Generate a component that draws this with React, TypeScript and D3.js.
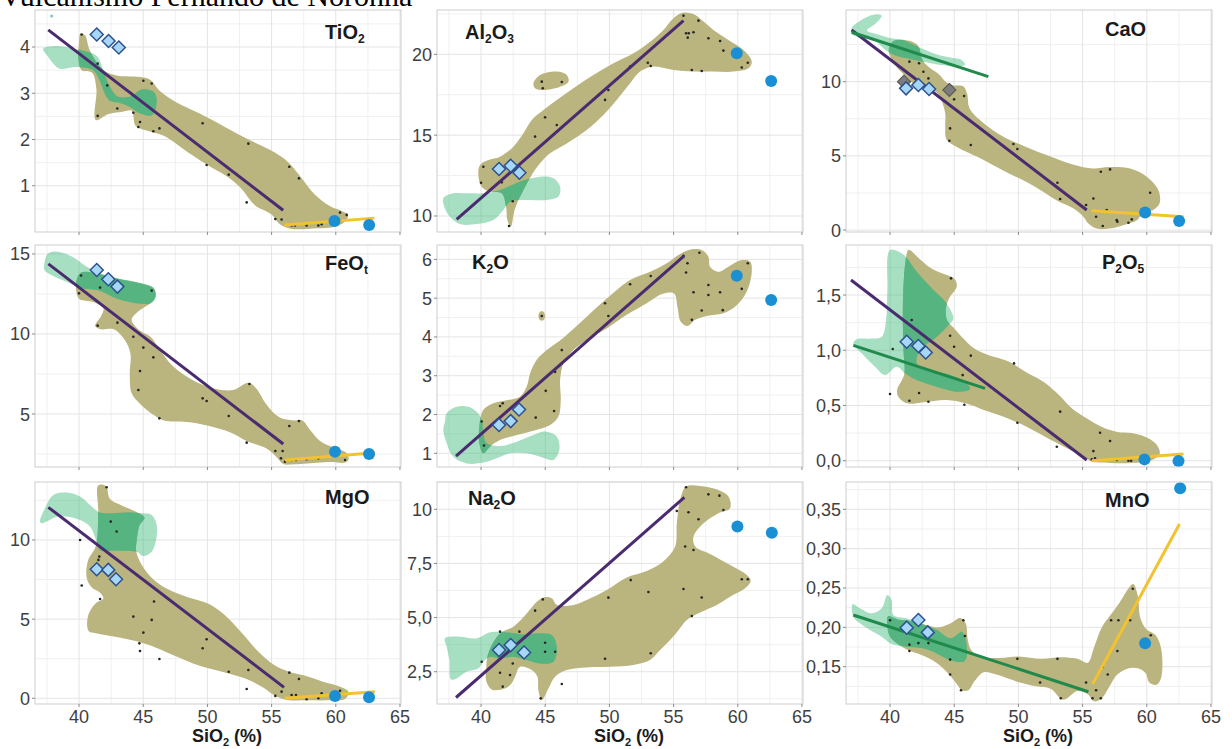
import React from 'react';
import * as d3 from 'd3';

type Pt = [number, number];

// ---------- shared axis ----------
const TITLE = 'Vulcanismo Fernando de Noronha';
const SIO2_DOMAIN: [number, number] = [36.57, 65.08];
const SIO2_TICKS = [40, 45, 50, 55, 60, 65];
const SIO2_MINOR = [37.5, 42.5, 47.5, 52.5, 57.5, 62.5];

// ---------- TiO2 ----------
const tio2Olive: Pt[] = [[40.1,4.28],[40.45,4.26],[40.8,3.95],[41.3,3.7],[42.0,3.48],[43.0,3.38],[44.3,3.36],[45.5,3.3],[46.3,3.05],[47.6,2.8],[49.4,2.56],[51.5,2.25],[53.2,2.0],[54.7,1.8],[55.8,1.62],[56.5,1.45],[57.3,1.18],[58.4,0.8],[59.6,0.55],[60.5,0.45],[60.95,0.37],[60.8,0.25],[60.0,0.12],[58.5,0.08],[56.5,0.07],[55.6,0.18],[55.0,0.38],[53.7,0.58],[52.6,0.95],[51.7,1.17],[50.3,1.4],[48.5,1.72],[46.6,2.08],[45.2,2.2],[44.4,2.3],[44.1,2.62],[43.4,2.6],[42.3,2.55],[41.3,2.42],[41.35,3.1],[41.0,3.45],[40.2,3.5],[39.95,3.75],[40.0,4.1]];
const tio2Green: Pt[] = [[37.2,3.96],[38.2,4.02],[39.5,3.97],[40.7,3.89],[41.4,3.8],[41.9,3.5],[42.3,3.2],[43.0,2.93],[44.0,2.93],[44.9,3.08],[45.8,3.03],[46.05,2.85],[45.7,2.53],[44.8,2.56],[44.0,2.7],[43.1,2.8],[42.4,2.84],[42.0,3.0],[41.6,3.28],[41.1,3.5],[39.8,3.57],[38.5,3.53],[38.0,3.64],[37.5,3.82]];
const tio2Dots: Pt[] = [[40.2,4.27],[41.45,3.64],[42.2,3.17],[42.98,2.67],[41.45,2.51],[44.23,2.58],[44.62,2.27],[44.75,2.38],[45.01,3.27],[45.66,3.21],[45.79,2.18],[46.26,2.24],[49.63,2.35],[49.94,1.45],[51.66,1.24],[53.19,1.91],[53.06,0.64],[56.38,1.41],[57.13,1.16],[55.29,0.28],[55.78,0.27],[56.56,0.14],[56.82,0.14],[57.73,0.14],[58.64,0.14],[58.9,0.17],[60.33,0.42],[60.85,0.37]];
const tio2GreenDots: Pt[] = [[37.87,4.67]];
const tio2Diamonds: Pt[] = [[41.38,4.27],[42.3,4.13],[43.1,3.99]];
const tio2Circles: Pt[] = [[59.9,0.24],[62.6,0.15]];
const tio2Purple: Pt[] = [[37.6,4.37],[55.9,0.47]];
const tio2Yellow: Pt[] = [[56.0,0.15],[63.0,0.3]];
const tio2Ticks = [1, 2, 3, 4];
const tio2TickLabels = ['1', '2', '3', '4'];

// ---------- Al2O3 ----------
const al2o3Olive: Pt[] = [[39.92,13.15],[40.57,13.46],[41.48,13.67],[42.52,14.29],[43.3,15.11],[43.95,15.94],[44.86,16.56],[45.9,17.18],[47.19,17.9],[48.75,18.72],[50.31,19.44],[51.87,20.06],[53.17,20.78],[54.21,21.51],[54.99,22.23],[55.77,22.58],[56.55,22.49],[57.19,22.12],[58.1,21.51],[59.27,20.89],[60.44,20.27],[61.09,19.55],[60.83,19.13],[59.66,18.93],[58.1,18.93],[56.55,18.93],[54.99,19.03],[53.43,19.24],[52.39,18.93],[51.61,18.21],[50.57,17.18],[49.53,16.25],[48.23,15.32],[46.68,14.49],[45.38,13.88],[44.6,13.26],[43.95,12.54],[43.3,11.61],[42.65,10.47],[42.31,9.34],[42.05,9.75],[41.95,10.58],[41.61,11.4],[40.7,11.51],[40.05,11.81],[39.79,12.54]];
const al2o3Island: Pt[] = [[44.08,18.21],[44.6,18.72],[45.9,18.93],[46.68,18.72],[46.81,18.31],[46.16,18.0],[44.86,17.79],[44.21,17.9]];
const al2o3Green: Pt[] = [[37.06,11.09],[37.84,11.4],[38.88,11.4],[40.18,11.4],[41.48,11.61],[43.04,12.12],[44.6,12.43],[45.64,12.33],[46.16,11.81],[46.03,11.2],[45.12,10.99],[43.56,10.99],[42.26,10.89],[41.74,10.37],[40.96,9.75],[39.66,9.5],[38.36,9.5],[37.58,9.96],[37.19,10.47]];
const al2o3Dots: Pt[] = [[40.18,13.05],[40.0,12.06],[41.61,12.08],[42.47,10.91],[42.18,9.38],[44.21,14.91],[44.99,16.1],[45.9,15.63],[44.73,18.31],[44.81,17.9],[46.29,18.29],[49.66,17.18],[49.92,17.79],[51.61,19.24],[52.99,19.48],[53.22,19.28],[55.77,22.39],[55.97,21.3],[56.18,21.3],[56.55,21.36],[56.1,21.03],[56.94,22.08],[57.71,20.99],[58.62,20.82],[58.88,20.23],[60.31,19.18],[60.78,19.48],[56.42,19.03],[57.19,18.97]];
const al2o3Diamonds: Pt[] = [[41.4,12.91],[42.31,13.11],[42.99,12.68]];
const al2o3Circles: Pt[] = [[59.92,20.06],[62.6,18.35]];
const al2o3Purple: Pt[] = [[38.1,9.79],[55.77,22.08]];
const al2o3Ticks = [10, 15, 20];
const al2o3TickLabels = ['10', '15', '20'];

// ---------- CaO ----------
const caoOlive: Pt[] = [[39.9,12.1],[40.3,12.75],[41.5,12.75],[42.2,12.4],[42.5,11.5],[43.0,11.0],[43.8,10.5],[44.4,9.95],[45.0,9.75],[45.7,9.7],[46.0,9.2],[46.2,8.2],[47.3,7.2],[48.8,6.3],[50.6,5.6],[52.5,4.95],[54.3,4.4],[55.8,4.15],[57.1,4.25],[58.7,4.15],[60.0,3.6],[60.9,2.7],[61.0,1.8],[60.5,1.35],[59.7,1.1],[59.2,0.65],[58.4,0.4],[57.1,0.1],[56.1,0.1],[55.45,0.45],[55.06,0.9],[54.3,1.45],[53.0,2.0],[51.7,2.7],[50.6,3.25],[49.3,3.8],[48.3,4.25],[46.75,4.95],[45.2,5.6],[44.4,6.1],[44.3,6.95],[44.3,7.85],[44.0,8.75],[43.6,9.3],[43.1,9.4],[41.8,9.9],[41.0,10.55],[40.5,11.0]];
const caoGreen: Pt[] = [[37.0,13.6],[37.4,13.95],[38.3,14.4],[38.95,14.55],[39.35,14.45],[38.85,13.9],[38.2,13.45],[39.0,13.2],[40.0,12.95],[41.0,12.8],[42.3,12.3],[43.6,11.85],[44.9,11.6],[45.5,11.5],[45.85,11.15],[45.2,11.0],[44.2,11.1],[42.6,11.35],[41.5,11.55],[40.5,11.75],[39.7,12.1],[38.7,12.8],[37.4,13.05],[37.0,13.25]];
const caoDots: Pt[] = [[41.51,11.35],[42.26,11.24],[42.6,10.67],[42.99,10.22],[44.99,8.81],[45.77,9.03],[44.68,6.85],[44.62,6.02],[46.29,5.73],[49.61,5.8],[49.92,5.46],[53.04,3.19],[53.25,2.09],[55.27,1.69],[55.84,2.13],[56.05,0.9],[56.42,3.93],[57.14,4.09],[56.88,1.35],[56.57,0.27],[57.66,0.67],[57.71,0.56],[58.57,0.49],[58.83,0.72],[60.26,2.52]];
const caoDiamonds: Pt[] = [[41.25,9.55],[42.21,9.78],[43.04,9.51]];
const caoGreyDiamonds: Pt[] = [[41.09,10.0],[44.62,9.44]];
const caoCircles: Pt[] = [[59.87,1.19],[62.52,0.61]];
const caoPurple: Pt[] = [[37.01,13.48],[55.32,1.35]];
const caoGreenLine: Pt[] = [[37.01,13.33],[47.66,10.34]];
const caoYellow: Pt[] = [[55.71,1.3],[62.86,0.9]];
const caoTicks = [0, 5, 10];
const caoTickLabels = ['0', '5', '10'];

// ---------- FeOt ----------
const feoOlive: Pt[] = [[39.8,13.3],[40.2,13.85],[41.6,13.75],[43.0,13.45],[44.8,13.15],[45.8,12.85],[45.95,12.35],[45.6,11.95],[44.6,11.4],[44.1,10.9],[44.6,10.3],[45.6,9.8],[46.3,9.0],[47.3,8.0],[48.9,7.1],[50.5,6.6],[52.0,6.5],[53.2,6.95],[53.8,6.6],[54.6,5.6],[55.6,4.8],[56.7,4.6],[57.4,4.6],[58.0,4.0],[58.8,3.3],[60.0,2.85],[60.8,2.6],[61.0,2.15],[60.6,1.95],[59.8,2.0],[58.5,1.95],[56.6,1.85],[55.9,1.88],[55.4,2.3],[54.6,2.85],[53.1,3.3],[51.8,3.85],[49.9,4.3],[48.4,4.5],[46.6,4.6],[45.8,4.95],[44.8,5.6],[44.1,6.3],[43.95,7.5],[44.0,8.8],[43.5,9.7],[42.7,10.3],[41.7,10.3],[41.25,10.5],[41.7,11.1],[41.9,11.6],[41.1,12.0],[40.0,12.2]];
const feoGreen: Pt[] = [[37.3,14.4],[37.55,15.0],[38.2,15.15],[39.4,14.85],[40.6,14.2],[41.6,13.8],[42.9,13.5],[44.75,13.2],[45.8,12.9],[46.0,12.4],[45.7,11.95],[44.7,11.9],[43.0,12.2],[41.6,12.7],[40.0,12.9],[39.5,13.1],[38.6,13.4],[37.8,13.7],[37.3,14.0]];
const feoDots: Pt[] = [[40.0,12.54],[41.64,12.9],[40.16,13.65],[45.66,12.71],[42.99,10.71],[41.45,10.52],[44.23,9.83],[45.01,9.15],[45.79,8.54],[44.75,7.69],[44.62,6.5],[46.26,4.73],[49.63,5.98],[49.94,5.81],[51.66,4.88],[53.06,3.21],[53.27,6.88],[56.38,4.25],[57.13,4.56],[55.29,2.69],[55.86,2.69],[55.73,2.23],[56.04,2.02],[56.56,2.13],[56.9,2.13],[57.73,2.17],[58.64,2.23],[60.72,2.13]];
const feoDiamonds: Pt[] = [[41.38,14.0],[42.28,13.42],[42.99,12.96]];
const feoCircles: Pt[] = [[59.94,2.65],[62.59,2.5]];
const feoPurple: Pt[] = [[37.61,14.38],[55.91,3.13]];
const feoYellow: Pt[] = [[56.04,2.13],[63.05,2.58]];
const feoTicks = [5, 10, 15];
const feoTickLabels = ['5', '10', '15'];

// ---------- K2O ----------
const k2oOlive: Pt[] = [[40.18,2.12],[40.96,2.29],[42.0,2.37],[43.04,2.46],[43.56,2.72],[43.82,3.06],[44.34,3.41],[45.12,3.66],[46.42,3.98],[48.23,4.52],[49.79,4.99],[51.61,5.47],[53.17,5.68],[54.47,5.9],[55.51,6.14],[56.42,6.26],[57.19,6.24],[57.71,6.07],[57.84,5.81],[58.49,5.68],[59.27,5.81],[60.18,5.97],[60.96,5.94],[61.09,5.68],[60.7,5.17],[59.92,4.82],[58.88,4.61],[57.58,4.54],[56.68,4.44],[56.08,4.28],[55.56,4.39],[55.3,4.78],[55.04,5.12],[54.21,5.12],[52.91,4.87],[51.35,4.57],[49.79,4.22],[48.23,3.92],[47.06,3.62],[46.42,3.32],[46.16,2.89],[46.21,2.37],[46.03,1.95],[45.38,1.73],[44.08,1.58],[42.78,1.47],[41.48,1.34],[40.7,1.17],[40.18,1.0],[39.87,1.26],[39.87,1.69]];
const k2oIsland: Pt[] = [[44.47,4.54],[44.6,4.65],[44.86,4.65],[44.99,4.54],[44.86,4.43],[44.6,4.43]];
const k2oGreen: Pt[] = [[37.19,1.82],[37.32,2.03],[38.1,2.2],[39.01,2.2],[39.66,2.07],[40.05,1.86],[40.18,1.52],[40.44,1.26],[41.48,1.19],[42.78,1.3],[44.08,1.47],[44.99,1.56],[45.9,1.43],[46.1,1.09],[45.64,0.83],[44.6,0.91],[43.56,1.0],[42.26,1.0],[41.22,0.87],[40.18,0.76],[38.88,0.74],[37.84,0.91],[37.32,1.26],[37.06,1.6]];
const k2oDots: Pt[] = [[40.05,1.82],[40.23,1.2],[41.48,2.22],[41.69,2.29],[45.04,2.61],[45.69,2.09],[44.26,1.92],[46.29,3.66],[45.77,3.1],[49.66,4.87],[49.92,4.54],[51.61,5.36],[53.22,5.57],[55.77,6.09],[56.08,5.9],[55.97,5.66],[57.01,6.17],[56.55,5.15],[57.19,4.68],[57.71,5.34],[57.71,5.08],[58.62,5.15],[58.83,4.69],[60.31,5.24],[60.78,5.9],[56.42,4.44],[44.73,4.54]];
const k2oDiamonds: Pt[] = [[41.4,1.73],[42.31,1.83],[42.96,2.13]];
const k2oCircles: Pt[] = [[59.92,5.58],[62.6,4.95]];
const k2oPurple: Pt[] = [[38.05,0.93],[55.82,6.09]];
const k2oTicks = [1, 2, 3, 4, 5, 6];
const k2oTickLabels = ['1', '2', '3', '4', '5', '6'];

// ---------- P2O5 ----------
const p2o5Olive: Pt[] = [[41.45,1.91],[42.1,1.85],[43.1,1.75],[44.2,1.69],[45.0,1.65],[45.2,1.58],[44.6,1.47],[44.35,1.38],[44.45,1.27],[44.9,1.21],[45.6,1.12],[46.5,1.02],[47.6,0.96],[49.2,0.9],[50.6,0.8],[52.0,0.71],[53.2,0.59],[54.2,0.47],[55.5,0.37],[56.6,0.3],[57.7,0.26],[58.8,0.25],[60.0,0.21],[60.8,0.14],[61.0,0.06],[60.3,0.0],[58.8,-0.02],[57.2,-0.02],[55.8,-0.01],[55.3,0.02],[54.0,0.1],[52.5,0.19],[50.6,0.31],[48.8,0.4],[47.3,0.46],[45.9,0.52],[44.4,0.55],[42.6,0.53],[41.3,0.52],[40.65,0.58],[40.55,0.64],[41.1,0.78],[41.05,1.0],[41.0,1.4],[41.2,1.8]];
const p2o5Green: Pt[] = [[40.0,1.907],[40.99,1.871],[42.08,1.711],[43.38,1.545],[44.29,1.44],[44.94,1.289],[44.55,1.228],[43.64,1.123],[42.34,1.002],[42.08,0.881],[43.12,0.821],[44.68,0.776],[45.84,0.715],[46.23,0.646],[45.19,0.625],[43.64,0.67],[42.08,0.73],[41.17,0.791],[40.52,0.851],[39.61,0.776],[38.83,0.851],[37.92,0.957],[37.14,1.062],[37.4,1.099],[38.44,1.105],[39.35,1.123],[39.69,1.274],[39.79,1.545]];
const p2o5Dots: Pt[] = [[41.51,0.543],[42.26,0.613],[42.99,0.534],[45.79,0.507],[44.99,1.032],[44.68,1.132],[46.29,0.951],[49.66,0.881],[49.92,0.344],[53.25,0.444],[52.99,0.127],[55.84,0.087],[55.97,0.021],[56.36,0.253],[57.14,0.178],[57.66,0.006],[58.57,0.0],[58.78,0.0],[44.75,1.651],[41.69,1.274],[40.21,1.011],[40.0,0.604],[45.66,0.775],[55.71,0.012]];
const p2o5Diamonds: Pt[] = [[41.3,1.077],[42.21,1.038],[42.78,0.98]];
const p2o5Circles: Pt[] = [[59.82,0.012],[62.47,-0.003]];
const p2o5Purple: Pt[] = [[36.96,1.636],[55.32,0.006]];
const p2o5GreenLine: Pt[] = [[37.14,1.044],[47.4,0.655]];
const p2o5Yellow: Pt[] = [[55.71,0.0],[62.86,0.06]];
const p2o5Ticks = [0, 0.5, 1.0, 1.5];
const p2o5TickLabels = ['0,0', '0,5', '1,0', '1,5'];

// ---------- MgO ----------
const mgoOlive: Pt[] = [[41.5,13.45],[42.1,13.4],[42.4,12.6],[43.4,12.15],[44.4,11.8],[45.1,11.4],[44.7,10.9],[44.5,10.0],[44.45,9.3],[44.9,8.4],[45.8,7.5],[46.9,6.9],[48.4,6.4],[50.0,6.0],[51.3,5.3],[52.6,4.2],[53.9,3.0],[55.2,2.1],[56.3,1.7],[57.5,1.45],[59.0,1.05],[60.3,0.75],[61.0,0.4],[60.7,-0.05],[59.5,-0.13],[58.0,-0.13],[56.2,-0.1],[55.2,0.2],[54.4,0.65],[53.1,1.2],[51.5,1.6],[49.4,2.05],[47.4,2.7],[46.0,3.2],[44.5,3.6],[42.7,3.9],[41.4,4.1],[40.75,4.25],[40.7,5.2],[41.3,6.0],[41.9,6.3],[41.6,6.7],[41.0,7.0],[40.6,7.6],[40.7,8.7],[41.3,9.6],[41.5,11.7]];
const mgoGreen: Pt[] = [[36.96,11.16],[37.35,12.0],[38.0,12.84],[39.04,12.99],[40.08,12.74],[40.86,12.21],[41.64,11.73],[43.71,11.73],[45.01,11.68],[45.66,11.58],[46.05,10.95],[46.0,10.0],[45.66,9.26],[45.01,8.99],[44.49,9.26],[42.93,9.33],[41.64,9.37],[41.38,9.89],[40.86,10.84],[40.08,11.26],[39.17,11.47],[38.26,11.47],[37.48,11.16],[37.09,11.05]];
const mgoDots: Pt[] = [[42.15,13.33],[42.47,11.16],[42.93,10.53],[40.08,10.0],[40.21,7.12],[41.64,6.27],[41.51,8.74],[41.58,8.95],[44.23,5.16],[45.01,4.15],[44.7,3.47],[44.75,2.99],[45.66,4.95],[45.84,6.11],[46.26,2.48],[49.63,3.16],[49.94,3.73],[51.66,1.68],[53.06,0.59],[53.19,1.79],[56.38,1.62],[57.13,1.22],[55.29,0.15],[55.78,0.42],[56.56,0.21],[56.9,0.21],[57.73,-0.06],[58.64,0.0],[58.9,0.32],[60.33,0.48]];
const mgoDiamonds: Pt[] = [[41.38,8.15],[42.28,8.11],[42.88,7.52]];
const mgoCircles: Pt[] = [[59.94,0.15],[62.59,0.06]];
const mgoPurple: Pt[] = [[37.61,12.06],[55.97,0.69]];
const mgoYellow: Pt[] = [[56.04,0.0],[63.05,0.42]];
const mgoTicks = [0, 5, 10];
const mgoTickLabels = ['0', '5', '10'];

// ---------- Na2O ----------
const na2oOlive: Pt[] = [[40.39,2.5],[40.57,3.35],[41.48,4.27],[42.52,4.58],[43.56,5.19],[44.34,5.73],[44.86,5.93],[45.51,5.89],[45.9,5.58],[47.19,5.58],[48.23,5.81],[49.79,6.27],[51.35,6.85],[52.9,7.15],[54.21,7.6],[55.12,8.28],[55.25,9.35],[55.51,10.43],[55.97,11.05],[57.06,11.08],[58.36,10.92],[59.27,10.59],[59.4,10.05],[58.49,9.82],[57.19,9.28],[56.55,8.74],[56.68,8.28],[57.84,7.94],[59.4,7.43],[60.7,6.97],[61.01,6.7],[60.57,6.35],[59.4,5.96],[58.36,5.58],[57.06,5.23],[56.03,4.89],[55.38,4.42],[54.73,3.96],[53.95,3.5],[53.17,3.04],[51.87,2.81],[50.05,2.73],[48.23,2.7],[46.68,2.58],[45.77,2.27],[45.25,1.73],[44.73,1.19],[44.47,1.65],[44.39,2.27],[43.95,2.58],[43.04,2.73],[42.65,2.27],[42.26,1.88],[41.61,1.68],[40.83,1.68],[40.39,2.11]];
const na2oGreen: Pt[] = [[37.19,4.04],[38.36,4.12],[39.66,4.04],[40.57,4.3],[41.22,4.35],[42.26,4.3],[43.3,4.22],[44.6,4.27],[45.51,4.19],[45.9,3.65],[45.64,2.96],[44.6,2.88],[43.56,3.04],[42.52,3.19],[41.48,3.12],[40.7,3.19],[40.18,2.96],[39.79,2.65],[38.88,2.5],[37.97,2.15],[37.64,2.15],[37.53,3.04],[37.32,3.65]];
const na2oDots: Pt[] = [[41.48,4.35],[42.99,4.35],[44.21,5.32],[44.81,5.84],[40.05,2.96],[41.48,2.45],[42.26,2.35],[42.47,2.88],[41.69,1.81],[44.99,3.42],[45.77,3.42],[44.99,3.84],[46.29,1.93],[44.65,1.27],[49.66,3.1],[49.92,5.92],[51.66,6.73],[53.04,6.18],[53.22,3.35],[55.77,6.32],[55.9,8.28],[56.55,8.12],[56.42,5.07],[57.19,5.93],[55.97,11.02],[55.25,9.92],[56.16,9.86],[56.94,9.54],[57.71,10.69],[58.57,10.63],[58.88,9.97],[60.31,6.77],[60.78,6.77]];
const na2oDiamonds: Pt[] = [[41.4,3.5],[42.31,3.73],[43.35,3.39]];
const na2oCircles: Pt[] = [[59.97,9.2],[62.65,8.92]];
const na2oPurple: Pt[] = [[38.05,1.31],[55.84,10.55]];
const na2oTicks = [2.5, 5, 7.5, 10];
const na2oTickLabels = ['2,5', '5,0', '7,5', '10'];

// ---------- MnO ----------
const mnoOlive: Pt[] = [[39.85,0.214],[40.6,0.21],[41.6,0.208],[42.8,0.203],[43.8,0.2],[44.8,0.206],[45.5,0.212],[45.9,0.205],[46.05,0.185],[46.3,0.172],[47.0,0.163],[48.5,0.161],[50.0,0.163],[51.8,0.16],[53.3,0.162],[54.6,0.16],[55.4,0.155],[55.9,0.175],[56.5,0.2],[57.1,0.214],[57.9,0.232],[58.6,0.25],[58.95,0.255],[59.3,0.24],[59.5,0.212],[59.95,0.198],[60.7,0.19],[61.15,0.17],[61.1,0.135],[60.75,0.127],[60.2,0.13],[59.9,0.142],[59.3,0.148],[58.6,0.148],[57.7,0.14],[57.1,0.125],[56.5,0.11],[55.9,0.106],[55.4,0.115],[54.6,0.119],[53.5,0.108],[52.5,0.122],[51.4,0.125],[49.9,0.131],[48.3,0.14],[47.3,0.143],[46.6,0.132],[46.1,0.12],[45.6,0.12],[45.2,0.128],[44.6,0.14],[44.0,0.15],[43.1,0.16],[42.1,0.167],[41.3,0.172],[40.5,0.18],[40.0,0.188],[39.8,0.2]];
const mnoGreen: Pt[] = [[37.09,0.2297],[37.66,0.2242],[38.57,0.2178],[39.35,0.2242],[39.79,0.2411],[40.13,0.2347],[40.26,0.2157],[41.3,0.2114],[42.34,0.2051],[43.64,0.1966],[44.68,0.186],[45.19,0.1903],[45.58,0.1945],[45.84,0.1881],[45.97,0.1627],[45.71,0.1564],[44.68,0.1585],[43.64,0.1669],[42.6,0.1733],[41.3,0.1754],[40.39,0.1775],[40.0,0.1797],[39.35,0.1881],[38.44,0.1966],[37.66,0.2051],[37.14,0.2136]];
const mnoDots: Pt[] = [[40.0,0.209],[41.51,0.178],[41.51,0.17],[42.21,0.18],[42.99,0.18],[44.68,0.159],[44.68,0.14],[45.71,0.209],[45.84,0.189],[45.53,0.12],[49.92,0.16],[51.69,0.13],[53.04,0.16],[53.3,0.11],[55.27,0.13],[55.77,0.11],[56.05,0.12],[56.16,0.139],[56.42,0.11],[56.57,0.15],[56.96,0.14],[57.22,0.209],[57.79,0.209],[57.71,0.17],[58.91,0.249],[58.7,0.209],[60.31,0.19]];
const mnoDiamonds: Pt[] = [[41.3,0.1996],[42.21,0.2093],[42.94,0.1936]];
const mnoCircles: Pt[] = [[59.87,0.1797],[62.6,0.3767]];
const mnoGreenLine: Pt[] = [[37.14,0.2157],[55.45,0.1182]];
const mnoYellow: Pt[] = [[55.79,0.128],[62.55,0.3314]];
const mnoTicks = [0.15, 0.2, 0.25, 0.3, 0.35];
const mnoTickLabels = ['0,15', '0,20', '0,25', '0,30', '0,35'];

// ---------- layout ----------
const COL_X = [35, 437, 846];
const ROW_Y = [10, 245, 482];
const PW = 366;
const PH = 222;
const FONT = "'Liberation Sans', Arial, Helvetica, sans-serif";

const C = {
  olive: '#bab47e',
  green: '#3cb878',
  greenDark: '#55b47f',
  purple: '#4a2b70',
  yellow: '#f2c230',
  greenLine: '#1f8a4c',
  diamond: '#a6d7f7',
  diamondStroke: '#2e528f',
  grey: '#7c7c7c',
  circle: '#1b8fd3',
  dot: '#262626',
  border: '#cdcdcd',
  gridMajor: '#e4e4e4',
  gridMinor: '#f0f0f0',
  tick: '#3f3f3f',
};

type Part = { t: string; sub?: boolean };
interface Panel {
  id: string;
  col: number;
  row: number;
  label: Part[];
  labelAt: [number, number];
  yDomain: [number, number];
  yTicks: number[];
  yTickLabels: string[];
  olive: Pt[][];
  green: Pt[];
  dots: Pt[];
  greenDots?: Pt[];
  diamonds: Pt[];
  greyDiamonds?: Pt[];
  circles: Pt[];
  purple?: Pt[];
  yellow?: Pt[];
  greenLine?: Pt[];
}

const PANELS: Panel[] = [
  { id: 'tio2', col: 0, row: 0, label: [{ t: 'TiO' }, { t: '2', sub: true }], labelAt: [290, 29],
    yDomain: [0.0, 4.8], yTicks: tio2Ticks, yTickLabels: tio2TickLabels,
    olive: [tio2Olive], green: tio2Green, dots: tio2Dots, greenDots: tio2GreenDots, diamonds: tio2Diamonds,
    circles: tio2Circles, purple: tio2Purple, yellow: tio2Yellow },
  { id: 'al2o3', col: 1, row: 0, label: [{ t: 'Al' }, { t: '2', sub: true }, { t: 'O' }, { t: '3', sub: true }], labelAt: [28, 29],
    yDomain: [9.01, 22.74], yTicks: al2o3Ticks, yTickLabels: al2o3TickLabels,
    olive: [al2o3Olive, al2o3Island], green: al2o3Green, dots: al2o3Dots, diamonds: al2o3Diamonds,
    circles: al2o3Circles, purple: al2o3Purple },
  { id: 'cao', col: 2, row: 0, label: [{ t: 'CaO' }], labelAt: [259, 26],
    yDomain: [-0.13, 14.83], yTicks: caoTicks, yTickLabels: caoTickLabels,
    olive: [caoOlive], green: caoGreen, dots: caoDots, diamonds: caoDiamonds, greyDiamonds: caoGreyDiamonds,
    circles: caoCircles, purple: caoPurple, yellow: caoYellow, greenLine: caoGreenLine },
  { id: 'feo', col: 0, row: 1, label: [{ t: 'FeO' }, { t: 't', sub: true }], labelAt: [290, 25],
    yDomain: [1.69, 15.56], yTicks: feoTicks, yTickLabels: feoTickLabels,
    olive: [feoOlive], green: feoGreen, dots: feoDots, diamonds: feoDiamonds,
    circles: feoCircles, purple: feoPurple, yellow: feoYellow },
  { id: 'k2o', col: 1, row: 1, label: [{ t: 'K' }, { t: '2', sub: true }, { t: 'O' }], labelAt: [35, 24],
    yDomain: [0.647, 6.37], yTicks: k2oTicks, yTickLabels: k2oTickLabels,
    olive: [k2oOlive, k2oIsland], green: k2oGreen, dots: k2oDots, diamonds: k2oDiamonds,
    circles: k2oCircles, purple: k2oPurple },
  { id: 'p2o5', col: 2, row: 1, label: [{ t: 'P' }, { t: '2', sub: true }, { t: 'O' }, { t: '5', sub: true }], labelAt: [256, 24],
    yDomain: [-0.057, 1.953], yTicks: p2o5Ticks, yTickLabels: p2o5TickLabels,
    olive: [p2o5Olive], green: p2o5Green, dots: p2o5Dots, diamonds: p2o5Diamonds,
    circles: p2o5Circles, purple: p2o5Purple, yellow: p2o5Yellow, greenLine: p2o5GreenLine },
  { id: 'mgo', col: 0, row: 2, label: [{ t: 'MgO' }], labelAt: [290, 22],
    yDomain: [-0.36, 13.66], yTicks: mgoTicks, yTickLabels: mgoTickLabels,
    olive: [mgoOlive], green: mgoGreen, dots: mgoDots, diamonds: mgoDiamonds,
    circles: mgoCircles, purple: mgoPurple, yellow: mgoYellow },
  { id: 'na2o', col: 1, row: 2, label: [{ t: 'Na' }, { t: '2', sub: true }, { t: 'O' }], labelAt: [31, 23],
    yDomain: [1.01, 11.26], yTicks: na2oTicks, yTickLabels: na2oTickLabels,
    olive: [na2oOlive], green: na2oGreen, dots: na2oDots, diamonds: na2oDiamonds,
    circles: na2oCircles, purple: na2oPurple },
  { id: 'mno', col: 2, row: 2, label: [{ t: 'MnO' }], labelAt: [259, 25],
    yDomain: [0.1026, 0.3847], yTicks: mnoTicks, yTickLabels: mnoTickLabels,
    olive: [mnoOlive], green: mnoGreen, dots: mnoDots, diamonds: mnoDiamonds,
    circles: mnoCircles, yellow: mnoYellow, greenLine: mnoGreenLine },
];

function Label({ parts, x, y, size }: { parts: Part[]; x: number; y: number; size: number }) {
  let shift = 0;
  return (
    <text x={x} y={y} fontFamily={FONT} fontWeight="bold" fontSize={size} fill="#1a1a1a">
      {parts.map((p, i) => {
        const dy = p.sub ? 4 - shift : -shift;
        shift = p.sub ? 4 : 0;
        return (
          <tspan key={i} dy={dy} fontSize={p.sub ? size * 0.6 : size}>{p.t}</tspan>
        );
      })}
    </text>
  );
}

function PanelView({ p }: { p: Panel }) {
  const left = COL_X[p.col];
  const top = ROW_Y[p.row];
  const x = d3.scaleLinear().domain(SIO2_DOMAIN).range([0, PW]);
  const y = d3.scaleLinear().domain(p.yDomain).range([PH, 0]);
  const blob = d3.line<Pt>().x(d => x(d[0])).y(d => y(d[1])).curve(d3.curveCatmullRomClosed.alpha(0.5));
  const seg = d3.line<Pt>().x(d => x(d[0])).y(d => y(d[1]));
  const step = p.yTicks[1] - p.yTicks[0];
  const yMinor = d3.range(p.yTicks[0] - step / 2, p.yDomain[1], step).filter(v => v > p.yDomain[0]);
  const diamondPath = (d: Pt, h: number) => {
    const cx = x(d[0]);
    const cy = y(d[1]);
    return `M${cx},${cy - h}L${cx + h},${cy}L${cx},${cy + h}L${cx - h},${cy}Z`;
  };
  const bottom = p.row === 2;
  return (
    <g transform={`translate(${left},${top})`}>
      <defs>
        <clipPath id={`area-${p.id}`}><rect width={PW} height={PH} /></clipPath>
        <clipPath id={`olive-${p.id}`}>
          {p.olive.map((o, i) => <path key={i} d={blob(o) || ''} />)}
        </clipPath>
      </defs>
      <rect width={PW} height={PH} fill="#ffffff" />
      {SIO2_MINOR.map(v => <line key={`xm${v}`} x1={x(v)} x2={x(v)} y1={0} y2={PH} stroke={C.gridMinor} strokeWidth={1} />)}
      {yMinor.map(v => <line key={`ym${v}`} x1={0} x2={PW} y1={y(v)} y2={y(v)} stroke={C.gridMinor} strokeWidth={1} />)}
      {SIO2_TICKS.map(v => <line key={`xM${v}`} x1={x(v)} x2={x(v)} y1={0} y2={PH} stroke={C.gridMajor} strokeWidth={1} />)}
      {p.yTicks.map(v => <line key={`yM${v}`} x1={0} x2={PW} y1={y(v)} y2={y(v)} stroke={C.gridMajor} strokeWidth={1} />)}
      <g clipPath={`url(#area-${p.id})`}>
        {p.olive.map((o, i) => <path key={i} d={blob(o) || ''} fill={C.olive} />)}
        <path d={blob(p.green) || ''} fill={C.green} fillOpacity={0.45} />
        <g clipPath={`url(#olive-${p.id})`}>
          <path d={blob(p.green) || ''} fill={C.greenDark} />
        </g>
        {(p.greenDots || []).map((d, i) => <circle key={`g${i}`} cx={x(d[0])} cy={y(d[1])} r={1.6} fill="#7fcfa6" />)}
        {p.dots.map((d, i) => <circle key={`d${i}`} cx={x(d[0])} cy={y(d[1])} r={1.3} fill={C.dot} />)}
        {p.purple && <path d={seg(p.purple) || ''} stroke={C.purple} strokeWidth={3} fill="none" />}
        {p.greenLine && <path d={seg(p.greenLine) || ''} stroke={C.greenLine} strokeWidth={3} fill="none" />}
        {p.yellow && <path d={seg(p.yellow) || ''} stroke={C.yellow} strokeWidth={3} fill="none" />}
      </g>
      {(p.greyDiamonds || []).map((d, i) => <path key={`gd${i}`} d={diamondPath(d, 6.5)} fill={C.grey} stroke="#5a5a5a" strokeWidth={1.2} />)}
      {p.diamonds.map((d, i) => <path key={`bd${i}`} d={diamondPath(d, 6.5)} fill={C.diamond} stroke={C.diamondStroke} strokeWidth={1.5} />)}
      {p.circles.map((d, i) => <circle key={`c${i}`} cx={x(d[0])} cy={y(d[1])} r={6} fill={C.circle} />)}
      <rect width={PW} height={PH} fill="none" stroke={C.border} strokeWidth={1} />
      {p.yTicks.map((v, i) => (
        <g key={`yt${v}`}>
          <line x1={-3} x2={0} y1={y(v)} y2={y(v)} stroke="#8a8a8a" />
          <text x={-5} y={y(v)} dy="0.36em" textAnchor="end" fontFamily={FONT} fontSize={18} fill={C.tick}>{p.yTickLabels[i]}</text>
        </g>
      ))}
      {SIO2_TICKS.map(v => <line key={`xt${v}`} x1={x(v)} x2={x(v)} y1={PH} y2={PH + 3} stroke="#8a8a8a" />)}
      {bottom && SIO2_TICKS.map(v => (
        <text key={`xl${v}`} x={x(v)} y={PH + 19} textAnchor="middle" fontFamily={FONT} fontSize={18} fill={C.tick}>{v}</text>
      ))}
      {bottom && (
        <text x={PW / 2 + 9} y={PH + 38} textAnchor="middle" fontFamily={FONT} fontWeight="bold" fontSize={18} fill="#1a1a1a">
          <tspan>SiO</tspan>
          <tspan dy={4} fontSize={11}>2</tspan>
          <tspan dy={-4}> (%)</tspan>
        </text>
      )}
      <Label parts={p.label} x={p.labelAt[0]} y={p.labelAt[1]} size={20} />
    </g>
  );
}

export default function App() {
  return (
    <svg width={1232} height={749} viewBox="0 0 1232 749"
      style={{ position: 'absolute', left: 0, top: 0, background: '#ffffff' }}>
      <rect width={1232} height={749} fill="#ffffff" />
      {PANELS.map(p => <PanelView key={p.id} p={p} />)}
      <text x={0} y={6} fontFamily="'Liberation Serif', 'Times New Roman', serif" fontSize={30} fill="#000">{TITLE}</text>
    </svg>
  );
}
